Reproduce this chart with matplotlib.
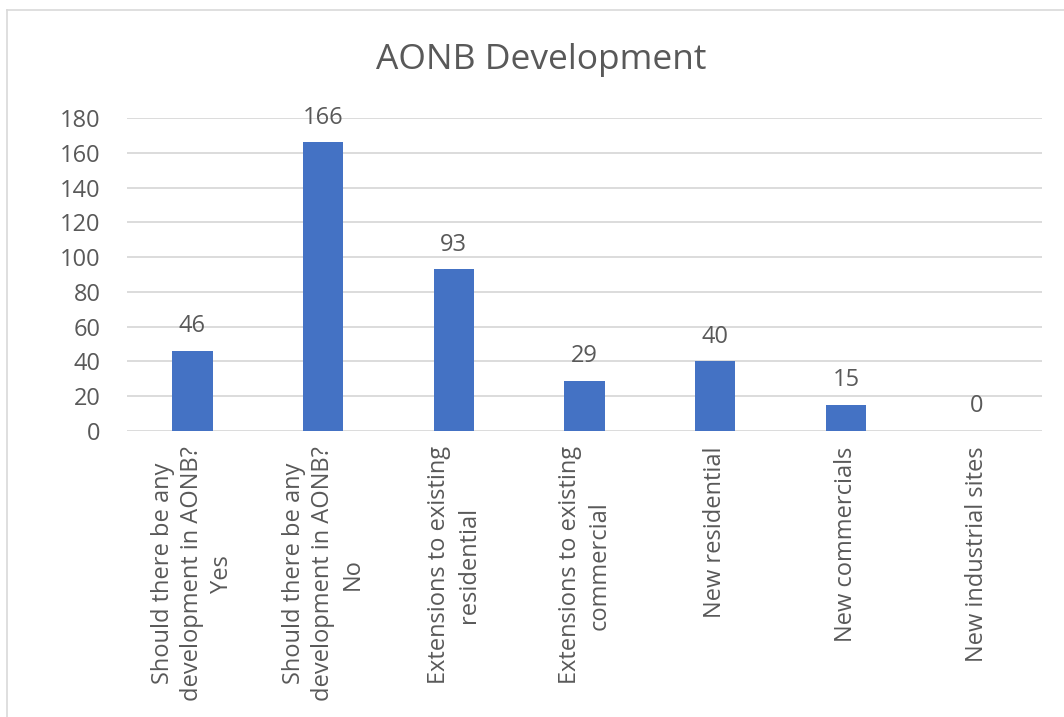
import numpy as np
import matplotlib.pyplot as plt
from matplotlib.lines import Line2D

plt.rcParams['font.family'] = ['Open Sans', 'DejaVu Sans']

categories = [
    "Should there be any\ndevelopment in AONB?\nYes",
    "Should there be any\ndevelopment in AONB?\nNo",
    "Extensions to existing\nresidential",
    "Extensions to existing\ncommercial",
    "New residential",
    "New commercials",
    "New industrial sites",
]
counts = [46, 166, 93, 29, 40, 15, 0]
yticks = [0, 20, 40, 60, 80, 100, 120, 140, 160, 180]

text_col = "#595959"
bar_col = "#4472C4"
grid_col = "#D9D9D9"

fig = plt.figure(figsize=(10.64, 7.17), dpi=100)
ax = fig.add_axes([0.1194, 0.399, 0.8599, 0.4364])

x = np.arange(len(categories))
bars = ax.bar(x, counts, width=0.31, color=bar_col, zorder=3)

for xi, v in zip(x, counts):
    ax.annotate(str(v), (xi, v), xytext=(0, 9), textcoords="offset points",
                ha="center", va="bottom", fontsize=17, color=text_col,
                annotation_clip=False)

ax.set_xlim(-0.5, len(categories) - 0.5)
ax.set_ylim(0, 180)
ax.set_yticks(yticks)
ax.yaxis.grid(True, color=grid_col, linewidth=1.3, zorder=0)
ax.set_xticks(x)
ax.set_xticklabels(categories, rotation=90, ha="center", va="top",
                   multialignment="center", linespacing=1.3)
ax.tick_params(axis="both", length=0, labelsize=17, labelcolor=text_col)
ax.tick_params(axis="x", pad=11)
ax.tick_params(axis="y", pad=19)
for s in ax.spines.values():
    s.set_visible(False)

fig.text(0.5085, 0.917, "AONB Development", ha="center", va="center",
         fontsize=25.5, color=text_col)

# chart frame (cropped at right and bottom)
fig.add_artist(Line2D([0.0066, 1.0], [0.986, 0.986], color="#D9D9D9", lw=1.2))
fig.add_artist(Line2D([0.0066, 0.0066], [0.0, 0.986], color="#D9D9D9", lw=1.2))

fig.savefig("out.png", dpi=100)
